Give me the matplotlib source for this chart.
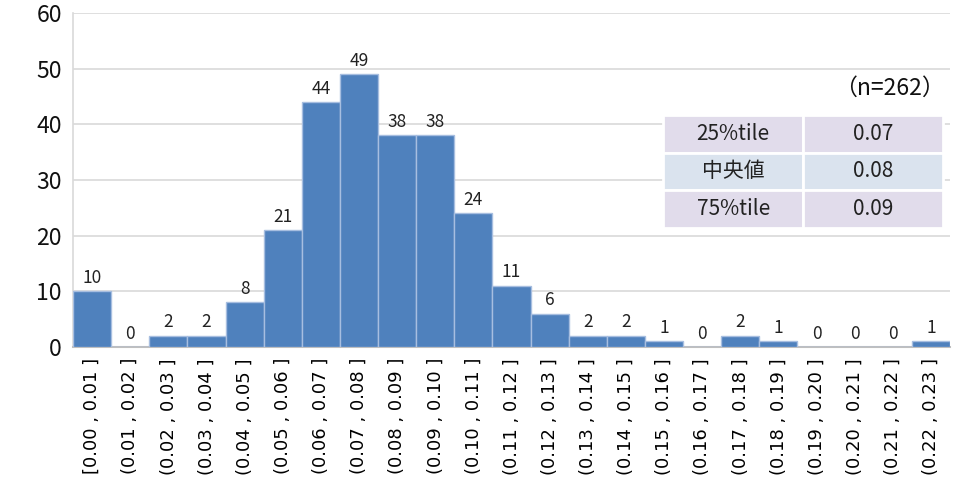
import matplotlib
matplotlib.use("Agg")
import matplotlib.pyplot as plt
import numpy as np

plt.rcParams["font.family"] = ["Noto Sans CJK JP", "DejaVu Sans"]

# Data
bin_labels = ["[0.00 , 0.01 ]"] + [
    "(0.%02d , 0.%02d ]" % (i, i + 1) for i in range(1, 23)
]
counts = [10, 0, 2, 2, 8, 21, 44, 49, 38, 38, 24, 11, 6, 2, 2, 1, 0, 2, 1, 0, 0, 0, 1]
stat_names = ["25%tile", "中央値", "75%tile"]
stat_values = ["0.07", "0.08", "0.09"]
n_label = "（n=262）"

BAR = "#4F81BD"
GRID = "#D9D9D9"

fig = plt.figure(figsize=(9.62, 4.91), dpi=100)
ax = fig.add_axes([0.0759, 0.2933, 0.9116, 0.6802])

x = np.arange(len(counts))
ax.bar(x, counts, width=1.0, color=BAR, edgecolor="#A7BEE0", linewidth=1.0, zorder=3)
for xi, c in zip(x, counts):
    ax.text(xi, c + 0.8, str(c), ha="center", va="bottom", fontsize=12.5, color="#222222")

ax.set_xlim(-0.5, len(counts) - 0.5)
ax.set_ylim(0, 60)
ax.set_yticks(range(0, 61, 10))
ax.tick_params(axis="y", length=0, labelsize=16.5, pad=8, labelcolor="#111111")
ax.set_xticks(x)
ax.set_xticklabels(bin_labels, rotation=90, fontsize=13, family="DejaVu Sans")
ax.tick_params(axis="x", length=0, pad=8)
ax.grid(axis="y", color=GRID, linewidth=1.2, zorder=0)
for s in ["top", "right"]:
    ax.spines[s].set_visible(False)
ax.spines["left"].set_color(GRID)
ax.spines["left"].set_linewidth(1.2)
ax.spines["bottom"].set_color("#BFBFBF")
ax.spines["bottom"].set_linewidth(1.5)

# Stats table
row_colors = ["#E1DCEB", "#DAE3EE", "#E1DCEB"]
tbl = ax.table(cellText=[[a, b] for a, b in zip(stat_names, stat_values)],
               cellLoc="center",
               bbox=[0.673, 0.356, 0.319, 0.339])
tbl.auto_set_font_size(False)
for (r, c), cell in tbl.get_celld().items():
    cell.set_facecolor(row_colors[r])
    cell.set_edgecolor("white")
    cell.set_linewidth(2)
    cell.get_text().set_fontsize(15)
    cell.get_text().set_color("#222222")
tbl.set_zorder(5)

fig.text(0.982, 0.82, n_label, ha="right", va="center", fontsize=16.5, color="#111111")

fig.savefig("out.png", dpi=100, facecolor="white")
